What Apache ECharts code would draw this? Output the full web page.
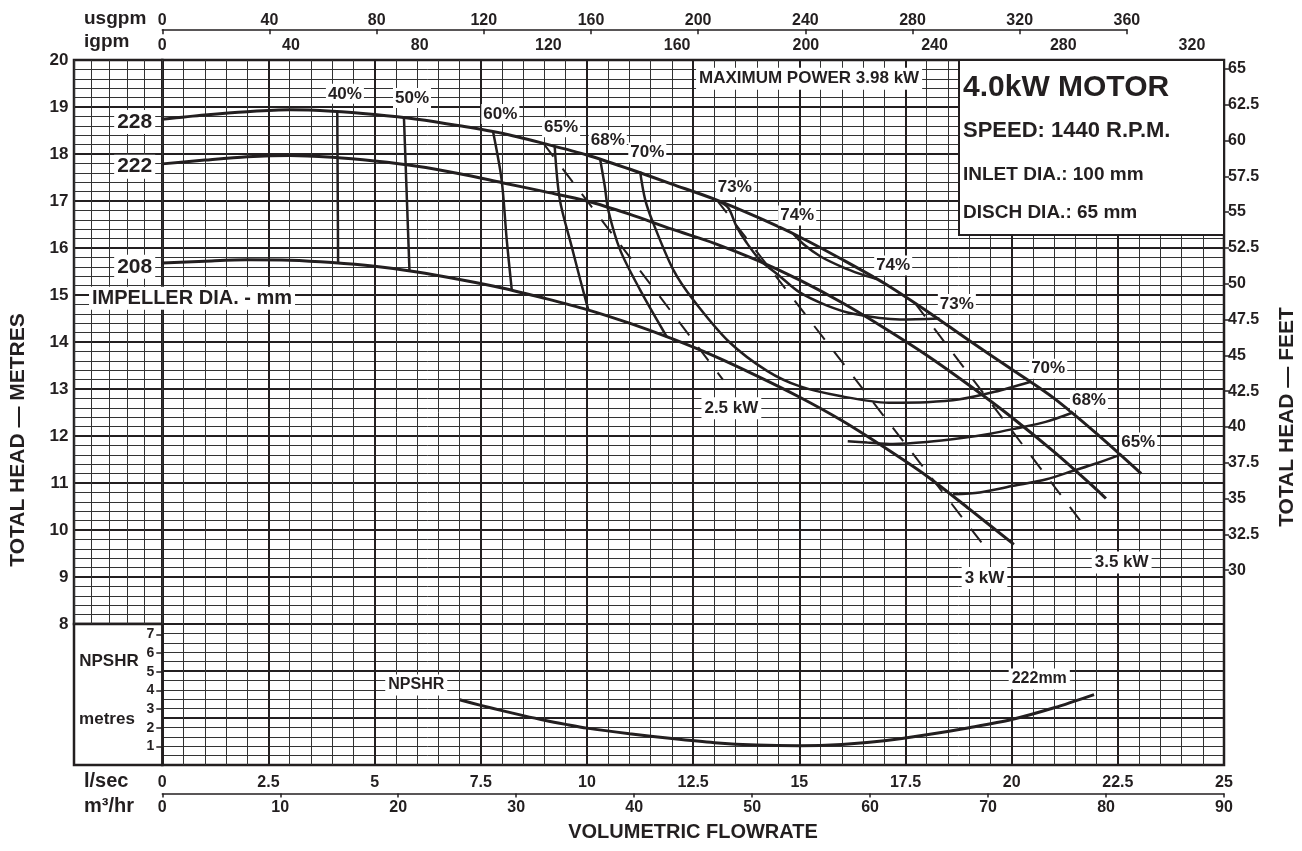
<!DOCTYPE html>
<html><head><meta charset="utf-8">
<script src="https://cdn.jsdelivr.net/npm/echarts@6/dist/echarts.min.js"></script>
<style>html,body{margin:0;padding:0;background:#fff}#c{width:1302px;height:851px}</style>
</head><body><div id="c"></div><script>
// ---------- data (flow in l/sec, head in metres) ----------
const head228 = [[0,18.74],[1,18.83],[2,18.9],[3,18.94],[4,18.91],[5,18.84],[6,18.74],[7,18.6],[8,18.44],[9,18.22],[10,17.98],[11,17.68],[12,17.36],[13,17.04],[14,16.66],[15,16.24],[16,15.76],[17,15.25],[18,14.66],[19,14.03],[20,13.42],[21,12.8],[22,12.05],[23.05,11.2]];
const head222 = [[0,17.79],[1,17.87],[2,17.94],[3,17.97],[4,17.93],[5,17.85],[6,17.74],[7,17.58],[8,17.39],[9,17.2],[10,17.0],[11,16.72],[12,16.4],[13,16.1],[14,15.74],[15,15.32],[16,14.84],[17,14.3],[18,13.72],[19,13.08],[20,12.4],[21,11.66],[22,10.86],[22.22,10.67]];
const head208 = [[0,15.68],[1,15.72],[2,15.75],[3,15.74],[4,15.69],[5,15.61],[6,15.49],[7,15.33],[8,15.15],[9,14.93],[10,14.69],[11,14.4],[12,14.07],[13,13.7],[14,13.28],[15,12.83],[16,12.33],[17,11.76],[18,11.15],[19,10.45],[20,9.73],[20.05,9.69]];

const eff40  = [[4.12,18.91],[4.14,15.68]];
const eff50  = [[5.69,18.77],[5.82,15.52]];
const eff60  = [[7.79,18.47],[7.99,17.45],[8.11,16.18],[8.23,15.1]];
const eff65L = [[9.24,18.16],[9.36,17.03],[9.64,16.03],[9.84,15.33],[10.03,14.69]];
const eff68L = [[10.31,17.89],[10.42,17.31],[10.5,16.81],[10.78,15.96],[11.25,15.11],[11.88,14.11]];
const eff70  = [[11.25,17.63],[11.37,17.03],[11.56,16.53],[12.03,15.54],[12.5,14.9],[13.35,14.0],[14.25,13.38],[15.0,13.06],[15.96,12.85],[17.1,12.71],[18.0,12.72],[18.78,12.78],[19.6,12.94],[20.43,13.15]];
const eff73  = [[13.1,17.0],[13.33,16.85],[13.52,16.46],[13.76,16.11],[14.07,15.75],[14.54,15.4],[15.0,15.06],[15.64,14.78],[16.27,14.6],[17.37,14.48],[18.3,14.5]];
const eff74  = [[14.86,16.3],[15.1,16.08],[15.5,15.82],[16.0,15.6],[16.43,15.45],[16.82,15.34]];
const eff68R = [[16.14,11.89],[16.6,11.86],[17.2,11.83],[18.0,11.87],[18.78,11.95],[19.5,12.05],[20.1,12.16],[20.8,12.3],[21.41,12.49]];
const eff65R = [[18.62,10.76],[19.25,10.8],[20.04,10.94],[20.82,11.08],[21.45,11.26],[22.0,11.42],[22.55,11.6]];

const kw25 = [[8.97,18.23],[13.2,13.2]];
const kw30 = [[13.05,17.03],[19.32,9.7]];
const kw35 = [[17.72,14.83],[21.8,9.98]];

const npshr222 = [[7.0,3.5],[7.5,3.2],[8,2.92],[8.5,2.65],[9,2.4],[9.5,2.18],[10,1.98],[11,1.68],[12,1.42],[13,1.2],[14,1.07],[15,1.03],[16,1.1],[17,1.3],[18,1.62],[19,2.0],[20,2.44],[21,3.07],[21.94,3.78]];

// labels: [flow, head, text]
const diaLabels = [[-0.65,18.68,'228'],[-0.65,17.73,'222'],[-0.65,15.6,'208']];
const impLabel = [[0.7,14.93,'IMPELLER DIA. - mm']];
const pctLabels = [[4.3,19.28,'40%'],[5.88,19.19,'50%'],[7.96,18.85,'60%'],[9.39,18.57,'65%'],[10.49,18.3,'68%'],[11.42,18.03,'70%'],[13.48,17.29,'73%'],[14.95,16.69,'74%'],[17.21,15.63,'74%'],[18.71,14.81,'73%'],[20.86,13.43,'70%'],[21.82,12.76,'68%'],[22.98,11.86,'65%']];
const kwLabels = [[13.4,12.59,'2.5 kW'],[19.36,8.98,'3 kW'],[22.59,9.31,'3.5 kW'],[15.23,19.6,'MAXIMUM POWER 3.98 kW']];
const npshrLabels = [[5.98,4.29,'NPSHR'],[20.65,4.62,'222mm']];

// tick labels
const headTicks = [8,9,10,11,12,13,14,15,16,17,18,19,20];
const feetTicks = [30,32.5,35,37.5,40,42.5,45,47.5,50,52.5,55,57.5,60,62.5,65];
const npshrTicks = [1,2,3,4,5,6,7];
const igpmTicks = [0,40,80,120,160,200,240,280,320];

// unit conversions
const USGPM_PER_LPS = 15.8503, IGPM_PER_LPS = 13.1982, M3H_PER_LPS = 3.6, FT_PER_M = 3.28084;

// ---------- layout ----------
const INK = '#231f20', MINOR = '#333333';
const FONT = '"Liberation Sans", Arial, Helvetica, sans-serif';
const GX = 162.3, GW = 1061.7, GT = 60, GH = 705;      // main plot: head 5..20 m
const H_MIN = 5, H_MAX = 20, PX_PER_M = GH / (H_MAX - H_MIN);
const Y8 = GT + (H_MAX - 8) * PX_PER_M;
const NP_H = GT + GH - Y8, NP_MAX = NP_H / 18.63;
const USG_MAX = 360, USG_W = GW * (USG_MAX / USGPM_PER_LPS) / 25;

const major = {show:true, lineStyle:{color:INK, width:2}};
const minor = {show:true, lineStyle:{color:MINOR, width:1}};
const noZero = {show:false, onZero:false};
const lbl = (size, extra) => Object.assign({color:INK, fontFamily:FONT, fontWeight:'bold', fontSize:size}, extra||{});

function curve(data, w, dashed) {
  return {type:'line', xAxisIndex:0, yAxisIndex:0, data, smooth:0.3, showSymbol:false, silent:true, z:5,
    lineStyle:{color:INK, width:w, type: dashed ? [17,15] : 'solid', cap:'butt', opacity:1}};
}
function labels(arr, size, xi, yi, pad) {
  return {type:'scatter', xAxisIndex:xi, yAxisIndex:yi, clip:false, silent:true, symbolSize:0, z:20,
    itemStyle:{opacity:1, color:INK},
    data: arr.map(d => ({value:[d[0], d[1]], name:d[2]})),
    label:{show:true, position:'inside', formatter:p => p.name, color:INK, opacity:1, fontFamily:FONT, fontWeight:'bold',
      fontSize:size, lineHeight:size+1, backgroundColor:'#fff', padding:pad || [1,2]}};
}
function gtext(text, x, y, size, opt) {
  opt = opt || {};
  return {type:'text', x, y, rotation:opt.rot || 0, z:100,
    style:{text, fill:INK, font:'bold ' + size + 'px ' + FONT, textAlign:opt.align || 'left', textVerticalAlign:'middle', verticalAlign:'middle'}};
}

const option = {
  animation:false,
  backgroundColor:'#fff',
  grid:[
    {left:GX, top:GT, width:GW, height:GH, show:true, borderColor:INK, borderWidth:2.5, backgroundColor:'transparent'},
    {left:74, top:GT, width:GX-74, height:Y8-GT, show:true, borderColor:INK, borderWidth:2.5, backgroundColor:'transparent'},
    {left:74, top:Y8, width:GX-74, height:NP_H, show:true, borderColor:INK, borderWidth:2.5, backgroundColor:'#fff'},
    {left:GX, top:Y8, width:GW, height:NP_H, show:false},
    {left:GX, top:29.3, width:USG_W, height:10, show:false}
  ],
  xAxis:[
    {gridIndex:0, type:'value', min:0, max:25, interval:2.5, position:'bottom',
      axisLine:noZero, axisTick:{show:false}, axisLabel:lbl(16,{margin:10}),
      splitLine:major, minorTick:{show:false, splitNumber:5}, minorSplitLine:minor},
    {gridIndex:0, type:'value', min:0, max:25*M3H_PER_LPS, interval:10, position:'bottom', offset:28.5,
      axisLine:{show:true, onZero:false, lineStyle:{color:INK, width:1.5}}, axisTick:{show:true, length:4, lineStyle:{color:INK, width:1.5}},
      axisLabel:lbl(16,{margin:6}), splitLine:{show:false}},
    {gridIndex:0, type:'value', min:0, max:25*IGPM_PER_LPS, interval:40, position:'top',
      axisLine:noZero, axisTick:{show:false}, axisLabel:lbl(16,{margin:6, customValues:igpmTicks}), splitLine:{show:false}},
    {gridIndex:1, type:'value', min:0, max:5, interval:1, axisLine:noZero, axisTick:{show:false}, axisLabel:{show:false}, splitLine:minor},
    {gridIndex:2, type:'value', min:0, max:1, show:false, axisLine:noZero},
    {gridIndex:3, type:'value', min:0, max:25, show:false, axisLine:noZero},
    {gridIndex:4, type:'value', min:0, max:USG_MAX, interval:40, position:'top',
      axisLine:{show:true, onZero:false, lineStyle:{color:INK, width:1.5}}, axisTick:{show:true, inside:true, length:5, lineStyle:{color:INK, width:1.5}},
      axisLabel:lbl(16,{margin:1}), splitLine:{show:false}}
  ],
  yAxis:[
    {gridIndex:0, type:'value', min:H_MIN, max:H_MAX, interval:1, position:'left',
      axisLine:noZero, axisTick:{show:false}, axisLabel:lbl(17,{margin:GX-68.5, customValues:headTicks}),
      splitLine:major, minorTick:{show:false, splitNumber:5}, minorSplitLine:minor},
    {gridIndex:0, type:'value', min:H_MIN*FT_PER_M, max:H_MAX*FT_PER_M, position:'right',
      axisLine:noZero, axisTick:{show:true, length:5, customValues:feetTicks, lineStyle:{color:INK, width:1.5}},
      axisLabel:lbl(16,{margin:4, customValues:feetTicks}), splitLine:{show:false}},
    {gridIndex:1, type:'value', min:8, max:20, interval:1, axisLine:noZero, axisTick:{show:false}, axisLabel:{show:false},
      splitLine:major, minorTick:{show:false, splitNumber:5}, minorSplitLine:minor},
    {gridIndex:2, type:'value', min:0, max:1, show:false, axisLine:noZero},
    {gridIndex:3, type:'value', min:0, max:NP_MAX, position:'left',
      axisLine:noZero, axisTick:{show:true, length:6, customValues:npshrTicks, lineStyle:{color:INK, width:1.5}},
      axisLabel:lbl(14,{margin:8, customValues:npshrTicks}), splitLine:{show:false}},
    {gridIndex:4, type:'value', min:0, max:1, show:false, axisLine:noZero}
  ],
  series:[
    curve(head228, 3), curve(head222, 3), curve(head208, 3),
    curve(eff40, 2.5), curve(eff50, 2.5), curve(eff60, 2.5), curve(eff65L, 2.5), curve(eff68L, 2.5),
    curve(eff70, 2.5), curve(eff73, 2.5), curve(eff74, 2.5), curve(eff68R, 2.5), curve(eff65R, 2.5),
    curve(kw25, 2, true), curve(kw30, 2, true), curve(kw35, 2, true),
    {type:'line', xAxisIndex:5, yAxisIndex:4, data:npshr222, smooth:0.3, showSymbol:false, silent:true, z:5,
      lineStyle:{color:INK, width:3}},
    labels(diaLabels, 21, 0, 0, [1,3]),
    labels(impLabel, 20, 0, 0, [1,3]),
    labels(pctLabels, 17, 0, 0, [1,2]),
    labels(kwLabels, 17, 0, 0, [2,3]),
    labels(npshrLabels, 16, 5, 4, [2,3])
  ],
  graphic:[
    {type:'rect', z:90, shape:{x:959, y:GT, width:GX+GW-959, height:175}, style:{fill:'#fff', stroke:INK, lineWidth:2}},
    gtext('4.0kW MOTOR', 963, 88, 30),
    gtext('SPEED: 1440 R.P.M.', 963, 131, 22),
    gtext('INLET DIA.: 100 mm', 963, 175, 19),
    gtext('DISCH DIA.: 65 mm', 963, 213, 19),
    gtext('usgpm', 84, 19, 19),
    gtext('igpm', 84, 42, 19),
    gtext('l/sec', 84, 781, 20),
    gtext('m³/hr', 84, 806, 20),
    gtext('VOLUMETRIC FLOWRATE', 693, 832, 20, {align:'center'}),
    gtext('TOTAL HEAD — METRES', 18, 440, 21, {align:'center', rot:Math.PI/2}),
    gtext('TOTAL HEAD — FEET', 1287, 417, 21, {align:'center', rot:Math.PI/2}),
    gtext('NPSHR', 109, 661, 17, {align:'center'}),
    gtext('metres', 107, 719, 17, {align:'center'})
  ]
};
const chart = echarts.init(document.getElementById('c'), null, {renderer:'canvas'});
chart.setOption(option);
</script></body></html>
